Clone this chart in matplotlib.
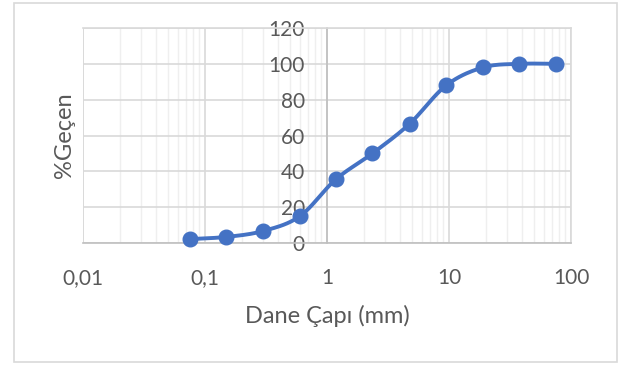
import matplotlib.pyplot as plt
import matplotlib.patches as patches
from matplotlib.ticker import FixedLocator, LogLocator, NullFormatter
import numpy as np

plt.rcParams['font.family'] = ['Lato', 'DejaVu Sans']

# sieve openings (mm) and percent passing
elek = [0.075, 0.15, 0.3, 0.6, 1.18, 2.36, 4.75, 9.5, 19, 37.5, 75]
gecen = [2.2, 3.4, 6.7, 15, 35.5, 50, 66.5, 88, 98, 100, 100]
xticks = [0.01, 0.1, 1, 10, 100]
xlabels = ['0,01', '0,1', '1', '10', '100']
yticks = [0, 20, 40, 60, 80, 100, 120]

blue = '#4472C4'
txt = '#595959'


def smooth(xs, ys, n=20):
    # Catmull-Rom curve through the points, built in log-x space
    px = np.log10(xs)
    py = np.array(ys) / 40.0
    pts = np.column_stack([px, py])
    pts = np.vstack([pts[0], pts, pts[-1]])
    out = []
    for i in range(1, len(pts) - 2):
        p0, p1, p2, p3 = pts[i - 1], pts[i], pts[i + 1], pts[i + 2]
        t = np.linspace(0, 1, n, endpoint=False)[:, None]
        c = 0.5 * ((2 * p1) + (-p0 + p2) * t + (2 * p0 - 5 * p1 + 4 * p2 - p3) * t**2
                   + (-p0 + 3 * p1 - 3 * p2 + p3) * t**3)
        out.append(c)
    out.append(pts[-2][None, :])
    c = np.vstack(out)
    return 10 ** c[:, 0], c[:, 1] * 40.0


fig = plt.figure(figsize=(6.19, 3.65), dpi=100)
ax = fig.add_axes([83 / 619, 1 - 243 / 365, (571 - 83) / 619, (243 - 28) / 365])

ax.set_xscale('log')
ax.set_xlim(0.01, 100)
ax.set_ylim(0, 120)

ax.xaxis.set_major_locator(FixedLocator(xticks))
ax.set_xticklabels(xlabels)
ax.xaxis.set_minor_locator(LogLocator(base=10, subs=np.arange(2, 10)))
ax.xaxis.set_minor_formatter(NullFormatter())
ax.set_yticks(yticks)

ax.grid(which='major', color='#D9D9D9', lw=1.2)
ax.grid(which='minor', axis='x', color='#EFEFEF', lw=1.0)
ax.set_axisbelow(True)

for s in ['top', 'right']:
    ax.spines[s].set_color('#D9D9D9')
    ax.spines[s].set_linewidth(1.2)
ax.spines['bottom'].set_color('#BFBFBF')
ax.spines['bottom'].set_linewidth(1.2)
ax.spines['left'].set_position(('data', 1))
ax.spines['left'].set_color('#BFBFBF')
ax.spines['left'].set_linewidth(1.2)
ax.axvline(0.01, color='#D9D9D9', lw=1.2, zorder=0)

ax.tick_params(axis='both', which='both', length=0, labelsize=15, labelcolor=txt)
ax.tick_params(axis='x', pad=18)
ax.tick_params(axis='y', pad=16)

sx, sy = smooth(elek, gecen)
ax.plot(sx, sy, color=blue, lw=2.8, solid_capstyle='round', clip_on=False, zorder=3)
ax.plot(elek, gecen, 'o', color=blue, ms=10.5, clip_on=False, zorder=4)

ax.set_xlabel('Dane Çapı (mm)', fontsize=17, color=txt, labelpad=12)
fig.text(65 / 619, 1 - 135 / 365, '%Geçen', rotation=90, fontsize=17, color=txt,
         ha='center', va='center')

fig.patches.append(patches.Rectangle((14 / 619, 3 / 365), 603 / 619, 359 / 365,
                                     transform=fig.transFigure, fill=False,
                                     edgecolor='#D9D9D9', lw=1.2))

fig.savefig('out.png', dpi=100)
